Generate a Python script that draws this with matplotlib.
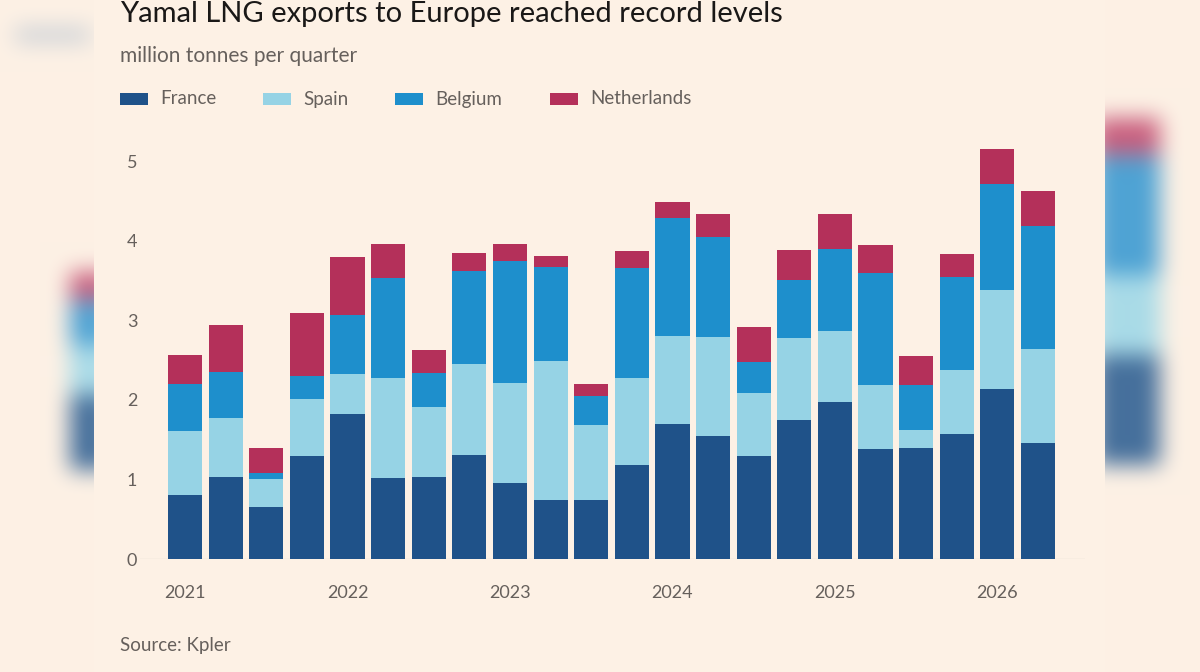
import numpy as np
import matplotlib
matplotlib.use('Agg')
import matplotlib.pyplot as plt
from matplotlib.patches import Rectangle

plt.rcParams['font.family'] = ['Lato', 'DejaVu Sans']

# Datos (millones de toneladas por trimestre, 2021T1 - 2026T2)
quarters = ['2021Q1', '2021Q2', '2021Q3', '2021Q4', '2022Q1', '2022Q2', '2022Q3', '2022Q4',
            '2023Q1', '2023Q2', '2023Q3', '2023Q4', '2024Q1', '2024Q2', '2024Q3', '2024Q4',
            '2025Q1', '2025Q2', '2025Q3', '2025Q4', '2026Q1', '2026Q2']
france = [0.80, 1.03, 0.65, 1.30, 1.82, 1.02, 1.03, 1.31, 0.96, 0.74, 0.74, 1.18,
          1.69, 1.55, 1.29, 1.75, 1.97, 1.38, 1.40, 1.57, 2.13, 1.46]
spain = [0.81, 0.74, 0.36, 0.71, 0.51, 1.25, 0.88, 1.14, 1.25, 1.75, 0.94, 1.09,
         1.11, 1.24, 0.80, 1.03, 0.89, 0.81, 0.22, 0.80, 1.25, 1.18]
belgium = [0.59, 0.58, 0.07, 0.29, 0.74, 1.26, 0.43, 1.17, 1.53, 1.18, 0.37, 1.38,
           1.48, 1.26, 0.38, 0.73, 1.03, 1.40, 0.57, 1.17, 1.33, 1.54]
netherlands = [0.36, 0.59, 0.31, 0.79, 0.72, 0.43, 0.29, 0.22, 0.22, 0.14, 0.15, 0.22,
               0.21, 0.29, 0.44, 0.37, 0.44, 0.36, 0.36, 0.29, 0.44, 0.44]
series_names = ['France', 'Spain', 'Belgium', 'Netherlands']
year_labels = ['2021', '2022', '2023', '2024', '2025', '2026']
y_ticks = [0, 1, 2, 3, 4, 5]

colors = ['#1f5289', '#96d3e5', '#1e8fcc', '#b4305a']
paper = '#fdf1e5'
grey = '#66605c'

W, H = 1200, 672
fig = plt.figure(figsize=(12, 6.72), dpi=100)
fig.patch.set_facecolor(paper)

# Fondo difuminado (la captura original tiene el gráfico ampliado detrás)
bg = np.ones((H, W, 3)) * np.array([0xfd, 0xf1, 0xe5]) / 255.0
def blob(x0, x1, y0, y1, col):
    bg[y0:y1, x0:x1] = np.array(matplotlib.colors.to_rgb(col))
blob(70, 110, 272, 300, '#c9607f')
blob(70, 110, 300, 345, '#4fa3d4')
blob(70, 110, 345, 395, '#a9dbe8')
blob(70, 110, 395, 470, '#46709c')
blob(1095, 1160, 118, 155, '#c9607f')
blob(1095, 1160, 155, 275, '#4fa3d4')
blob(1095, 1160, 275, 355, '#a9dbe8')
blob(1095, 1160, 355, 465, '#46709c')
blob(15, 90, 28, 42, '#c7ced6')
k = 21
ker = np.ones(k) / k
p = 3 * k
bg = np.pad(bg, ((p, p), (p, p), (0, 0)), mode='edge')
for _ in range(3):
    bg = np.apply_along_axis(lambda r: np.convolve(r, ker, mode='same'), 0, bg)
    bg = np.apply_along_axis(lambda r: np.convolve(r, ker, mode='same'), 1, bg)
bg = bg[p:-p, p:-p]
fig.figimage(np.clip(bg, 0, 1), xo=0, yo=0, origin='upper', zorder=0)

# Tarjeta del gráfico
fig.patches.append(Rectangle((94 / W, 0), (1105 - 94) / W, 1, transform=fig.transFigure,
                             facecolor=paper, edgecolor='none', zorder=1))

x0_px, x1_px = 140, 1085
y0_px, y1_px = 559, 140
c0, step = 185, 40.62
ymax = (y0_px - y1_px) / 79.6
ax = fig.add_axes([x0_px / W, 1 - y0_px / H, (x1_px - x0_px) / W, (y0_px - y1_px) / H])
ax.set_facecolor('none')
ax.set_zorder(2)

x = np.arange(len(quarters))
bottom = np.zeros(len(quarters))
for vals, name, col in zip([france, spain, belgium, netherlands], series_names, colors):
    ax.bar(x, vals, width=0.84, bottom=bottom, color=col, label=name, zorder=3)
    bottom += np.array(vals)

ax.set_xlim((x0_px - c0) / step, (x1_px - c0) / step)
ax.set_ylim(0, ymax)
for s in ax.spines.values():
    s.set_visible(False)
ax.axhline(0, color='#e8ddd2', lw=1, zorder=2)

ax.set_yticks(y_ticks)
ax.set_yticklabels([str(t) for t in y_ticks])
year_pos = [quarters.index(y + 'Q1') for y in year_labels]
ax.set_xticks(year_pos)
ax.set_xticklabels(year_labels)
ax.tick_params(axis='y', length=0, pad=2, labelsize=13, labelcolor=grey)
ax.tick_params(axis='x', length=0, pad=19, labelsize=13, labelcolor=grey)

# Títulos
fig.text(120 / W, 1 - 14 / H, 'Yamal LNG exports to Europe reached record levels',
         fontsize=21, color='#1a1817', ha='left', va='center', zorder=3)
fig.text(120 / W, 1 - 56 / H, 'million tonnes per quarter', fontsize=15, color=grey,
         ha='left', va='center', zorder=3)
fig.text(120 / W, 1 - 645 / H, 'Source: Kpler', fontsize=13.5, color=grey,
         ha='left', va='center', zorder=3)

# Leyenda
leg_x = [120, 263, 395, 550]
for lx, name, col in zip(leg_x, series_names, colors):
    fig.patches.append(Rectangle((lx / W, 1 - 105 / H), 28 / W, 12 / H,
                                 transform=fig.transFigure, facecolor=col,
                                 edgecolor='none', zorder=3))
    fig.text((lx + 40) / W, 1 - 99 / H, name, fontsize=13.5, color=grey,
             ha='left', va='center', zorder=3)

fig.savefig('out.png', dpi=100, facecolor=fig.get_facecolor())
